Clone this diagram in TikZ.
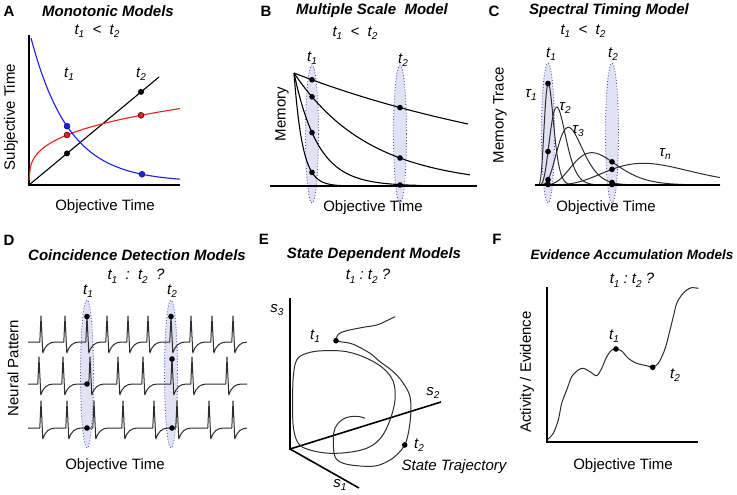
\documentclass[tikz,border=0pt]{standalone}
\usepackage{fontspec}
\setmainfont{Liberation Sans}
\usetikzlibrary{calc}
\definecolor{ellfill}{RGB}{226,226,244}
\definecolor{elldraw}{RGB}{80,80,200}
\definecolor{mred}{RGB}{235,30,30}
\definecolor{mblue}{RGB}{30,30,235}
\definecolor{crvgray}{RGB}{45,45,45}
\newcommand{\tsb}[2]{#1\raisebox{-0.45ex}{\fontsize{10}{10}\selectfont #2}}
\begin{document}
\begin{tikzpicture}[x=1pt,y=-1pt,
  ttl/.style={font=\fontsize{15}{18}\selectfont\bfseries\itshape, inner sep=0pt},
  lbl/.style={font=\fontsize{15}{18}\selectfont, inner sep=0pt},
  tl/.style={font=\fontsize{15}{18}\selectfont\itshape, inner sep=0pt},
  letter/.style={font=\fontsize{15}{18}\selectfont\bfseries, inner sep=0pt},
  ell/.style={fill=ellfill, draw=elldraw, dotted, line width=0.9pt},
  axisline/.style={line width=2pt},
  crv/.style={line width=1.1pt},
  gcrv/.style={line width=1pt, draw=crvgray},
  spk/.style={line width=1pt, draw=crvgray, line join=round},
]
\fill[white] (0,0) rectangle (737,495);
\useasboundingbox (0,0) rectangle (737,495);

% ================= Panel A =================
\node[letter] (la) at (9,11) {A};
\node[ttl] (ta) at (108,11) {Monotonic Models};
\node[tl] (ca) at (97,31) {\tsb{t}{1}\ \ <\ \ \tsb{t}{2}};
\draw[axisline] (29,35) -- (29,185) -- (180,185);
\draw[crv] (29,185) -- (159,77);
\draw[crv, mred, domain=0.02:151, samples=120] plot ({29+\x},{185-16.3*pow(\x,0.308)});
\draw[crv, mblue, domain=31:180, samples=80] plot (\x,{185-3-144*exp(-(\x-31)/38)});
\fill (67,153.4) circle[radius=3pt];
\fill (141,91.9) circle[radius=3pt];
\filldraw[fill=mred, draw=black, line width=0.4pt] (67,135) circle[radius=3pt];
\filldraw[fill=mred, draw=black, line width=0.4pt] (141,{185-16.3*pow(112,0.308)}) circle[radius=3pt];
\filldraw[fill=mblue, draw=black!60!blue, line width=0.4pt] (67,{182-144*exp(-36/38)}) circle[radius=3pt];
\filldraw[fill=mblue, draw=black!60!blue, line width=0.4pt] (142,{182-144*exp(-111/38)}) circle[radius=3pt];
\node[tl] (a1) at (69,74) {\tsb{t}{1}};
\node[tl] (a2) at (141,74) {\tsb{t}{2}};
\node[lbl, rotate=90] (ya) at (11,117) {Subjective Time};
\node[lbl] (xa) at (105,207) {Objective Time};

% ================= Panel B =================
\node[letter] (lb) at (266,11) {B};
\node[ttl] (tb) at (372,11) {Multiple Scale\ \ Model};
\node[tl] (cb) at (355,33) {\tsb{t}{1}\ \ <\ \ \tsb{t}{2}};
\path[ell] (312,134) ellipse [x radius=6.5pt, y radius=69pt];
\path[ell] (400,134) ellipse [x radius=6.5pt, y radius=69pt];
\node[tl] (b1) at (312,58) {\tsb{t}{1}};
\node[tl] (b2) at (403,60) {\tsb{t}{2}};
\draw[crv, domain=294:468, samples=60] plot (\x,{186-113*exp(-(\x-294)/290)});
\draw[crv, domain=294:470, samples=60] plot (\x,{186-113*exp(-(\x-294)/76)});
\draw[crv, domain=294:420, samples=80] plot (\x,{186-113*exp(-(\x-294)/24)});
\draw[crv, domain=294:345, samples=80] plot (\x,{186-113*exp(-(\x-294)/8.5)});
\draw[line width=1.6pt] (270,186) -- (477,186);
\foreach \tt in {290,76,24,8.5} {\fill (312,{186-113*exp(-18/\tt)}) circle[radius=2.8pt];}
\foreach \tt in {290,76} {\fill (400,{186-113*exp(-106/\tt)}) circle[radius=2.8pt];}
\fill (400,185) circle[radius=2.8pt];
\node[lbl, rotate=90] (yb) at (282,114) {Memory};
\node[lbl] (xb) at (373,208) {Objective Time};

% ================= Panel C =================
\node[letter] (lc) at (494,11) {C};
\node[ttl] (tc) at (609,11) {Spectral Timing Model};
\node[tl] (cc) at (583,31) {\tsb{t}{1}\ \ <\ \ \tsb{t}{2}};
\path[ell] (548,133) ellipse [x radius=6.5pt, y radius=70pt];
\path[ell] (612,133) ellipse [x radius=6.5pt, y radius=70pt];
\node[tl] (c1) at (551,54) {\tsb{t}{1}};
\node[tl] (c2) at (613,54) {\tsb{t}{2}};
\foreach \s/\h/\um in {11.3/101.7/4, 19.7/78/4, 31.3/57.7/4, 54.7/32.3/3.35, 106.3/21.7/1.72}{
  \draw[gcrv] (537,185) -- plot[domain=0.15:\um, samples=70] ({537+\s*\x},{185-\h*pow(\x*exp(1-\x),6)});
}
\draw[line width=2pt] (535,185) -- (720,185);
\foreach \s/\h in {11.3/101.7, 19.7/78, 31.3/57.7}{
  \fill (548,{185-\h*pow((11/\s)*exp(1-11/\s),6)}) circle[radius=2.8pt];
}
\fill (548,184.5) circle[radius=2.8pt];
\foreach \s/\h in {54.7/32.3, 106.3/21.7, 31.3/57.7}{
  \fill (612,{185-\h*pow((75/\s)*exp(1-75/\s),6)}) circle[radius=2.8pt];
}
\fill (612,184.5) circle[radius=2.8pt];
\node[tl] (tau1) at (531,95) {\tsb{τ}{1}};
\node[tl] (tau2) at (565,108) {\tsb{τ}{2}};
\node[tl] (tau3) at (578,131) {\tsb{τ}{3}};
\node[tl] (taun) at (665,154) {\tsb{τ}{n}};
\node[lbl, rotate=90] (yc) at (500,115) {Memory Trace};
\node[lbl] (xc) at (606,208) {Objective Time};

% ================= Panel D =================
\node[letter] (ld) at (9,240) {D};
\node[ttl] (td) at (137,255) {Coincidence Detection Models};
\node[tl] (cd) at (136,276) {\tsb{t}{1}\ \ :\ \ \tsb{t}{2}\ \ ?};
\path[ell] (87,374) ellipse [x radius=6.5pt, y radius=74pt];
\path[ell] (171,374) ellipse [x radius=6.5pt, y radius=74pt];
\node[tl] (d1) at (88,291) {\tsb{t}{1}};
\node[tl] (d2) at (172,291) {\tsb{t}{2}};
\draw[spk] (28,342) \foreach \p in {41,65,87,107,128,148,171,191,212,233}{
  -- (\p-1.2,342) -- (\p,316) -- (\p+1.8,353) .. controls (\p+4.5,345) and (\p+8,342.5) .. (\p+14,342)};
\draw[spk] (28,384) \foreach \p in {39,63,90,118,143,172,192,227}{
  -- (\p-1.2,384) -- (\p,357) -- (\p+1.8,395) .. controls (\p+4.5,387) and (\p+8,384.5) .. (\p+14,384)} -- (247,384);
\draw[spk] (28,428) \foreach \p in {41,67,94,123,154,177,209,233}{
  -- (\p-1.2,428) -- (\p,401) -- (\p+1.8,439) .. controls (\p+4.5,431) and (\p+8,428.5) .. (\p+14,428)};
\fill (87,316.5) circle[radius=2.8pt];
\fill (171,316.5) circle[radius=2.8pt];
\fill (87,384) circle[radius=2.8pt];
\fill (172,359) circle[radius=2.8pt];
\fill (87,428) circle[radius=2.8pt];
\fill (172,428) circle[radius=2.8pt];
\node[lbl, rotate=90] (yd) at (13,368) {Neural Pattern};
\node[lbl] (xd) at (115,466) {Objective Time};

% ================= Panel E =================
\node[letter] (le) at (264,239) {E};
\node[ttl] (te) at (374,255) {State Dependent Models};
\node[tl] (ce) at (368,276) {\tsb{t}{1}\ :\ \tsb{t}{2}\ ?};
\draw[line width=1.6pt] (290,298) -- (290,449) -- (441,402);
\draw[line width=1.6pt] (290,449) -- (359,488);
\draw[gcrv] plot[smooth cycle, tension=0.6] coordinates {
  (296.7,360) (306.7,353.3) (323.3,350.7) (346.7,351.7) (366.7,358.3) (383.3,368.3)
  (393.3,381.7) (395,400) (390,420) (381.7,436.7) (370,446.7) (353.3,451.7) (330,453.3)
  (310,450) (298.3,443.3) (293.3,426.7) (292.7,400) (293.3,376.7)};
\draw[gcrv] plot[smooth, tension=0.6] coordinates {
  (395,316.7) (386.7,320.7) (376.7,325) (363.3,327.3) (346.7,330.7) (338.3,334.3) (336,340.7)};
\draw[gcrv] plot[smooth, tension=0.6] coordinates {
  (336,340.7) (341,341.8) (353.3,344.3) (370,353.3) (380,361.7) (393.3,371.7) (403.3,383.3)
  (410,396.7) (410.7,415) (408.3,433.3) (404.7,445) (398.3,453.3) (390,460) (376.7,465.7)
  (360,466) (343.3,463.3) (335,456.7) (333.3,440) (335,428.3) (341.7,420) (350,416.7)
  (360,416.7) (365,418.3)};
\fill (336,340.7) circle[radius=2.8pt];
\fill (404.7,445) circle[radius=2.8pt];
\node[tl] (s3) at (277,310) {\tsb{s}{3}};
\node[tl] (s2) at (433,393) {\tsb{s}{2}};
\node[tl] (s1) at (340,485) {\tsb{s}{1}};
\node[tl] (e1) at (315,336) {\tsb{t}{1}};
\node[tl] (e2) at (419,445) {\tsb{t}{2}};
\node[tl] (st) at (454,467) {State Trajectory};

% ================= Panel F =================
\node[letter] (lf) at (497,239) {F};
\node[font=\fontsize{13.5}{16}\selectfont\bfseries\itshape, inner sep=0pt] (tf) at (632,255) {Evidence Accumulation Models};
\node[tl] (cf) at (632,280) {\tsb{t}{1}\ :\ \tsb{t}{2}\ ?};
\draw[axisline] (547,287) -- (547,442) -- (698,442);
\draw[gcrv] plot[smooth, tension=0.5] coordinates {
  (547,440) (553.3,433.3) (558.3,420) (561.7,403.3) (566.7,390) (571.7,376.7) (578.3,370)
  (583.3,368.3) (590,371.7) (596.7,375.7) (601.7,368.3) (606.7,356.7) (611.7,350) (616,349)
  (621.7,351) (628.3,358.3) (636.7,363.3) (646.7,365.7) (652.7,367.3) (658.3,363.3)
  (663.3,353.3) (666.7,343.3) (670,330) (673.3,316.7) (676.7,303.3) (681.7,295) (686.7,290)
  (691.7,287.7) (698.3,288.3)};
\fill (616,349) circle[radius=2.8pt];
\fill (652.7,367.3) circle[radius=2.8pt];
\node[tl] (f1) at (614,336) {\tsb{t}{1}};
\node[tl] (f2) at (675,375) {\tsb{t}{2}};
\node[lbl, rotate=90] (yf) at (527,372) {Activity / Evidence};
\node[lbl] (xf) at (623,466) {Objective Time};
\end{tikzpicture}
\end{document}
